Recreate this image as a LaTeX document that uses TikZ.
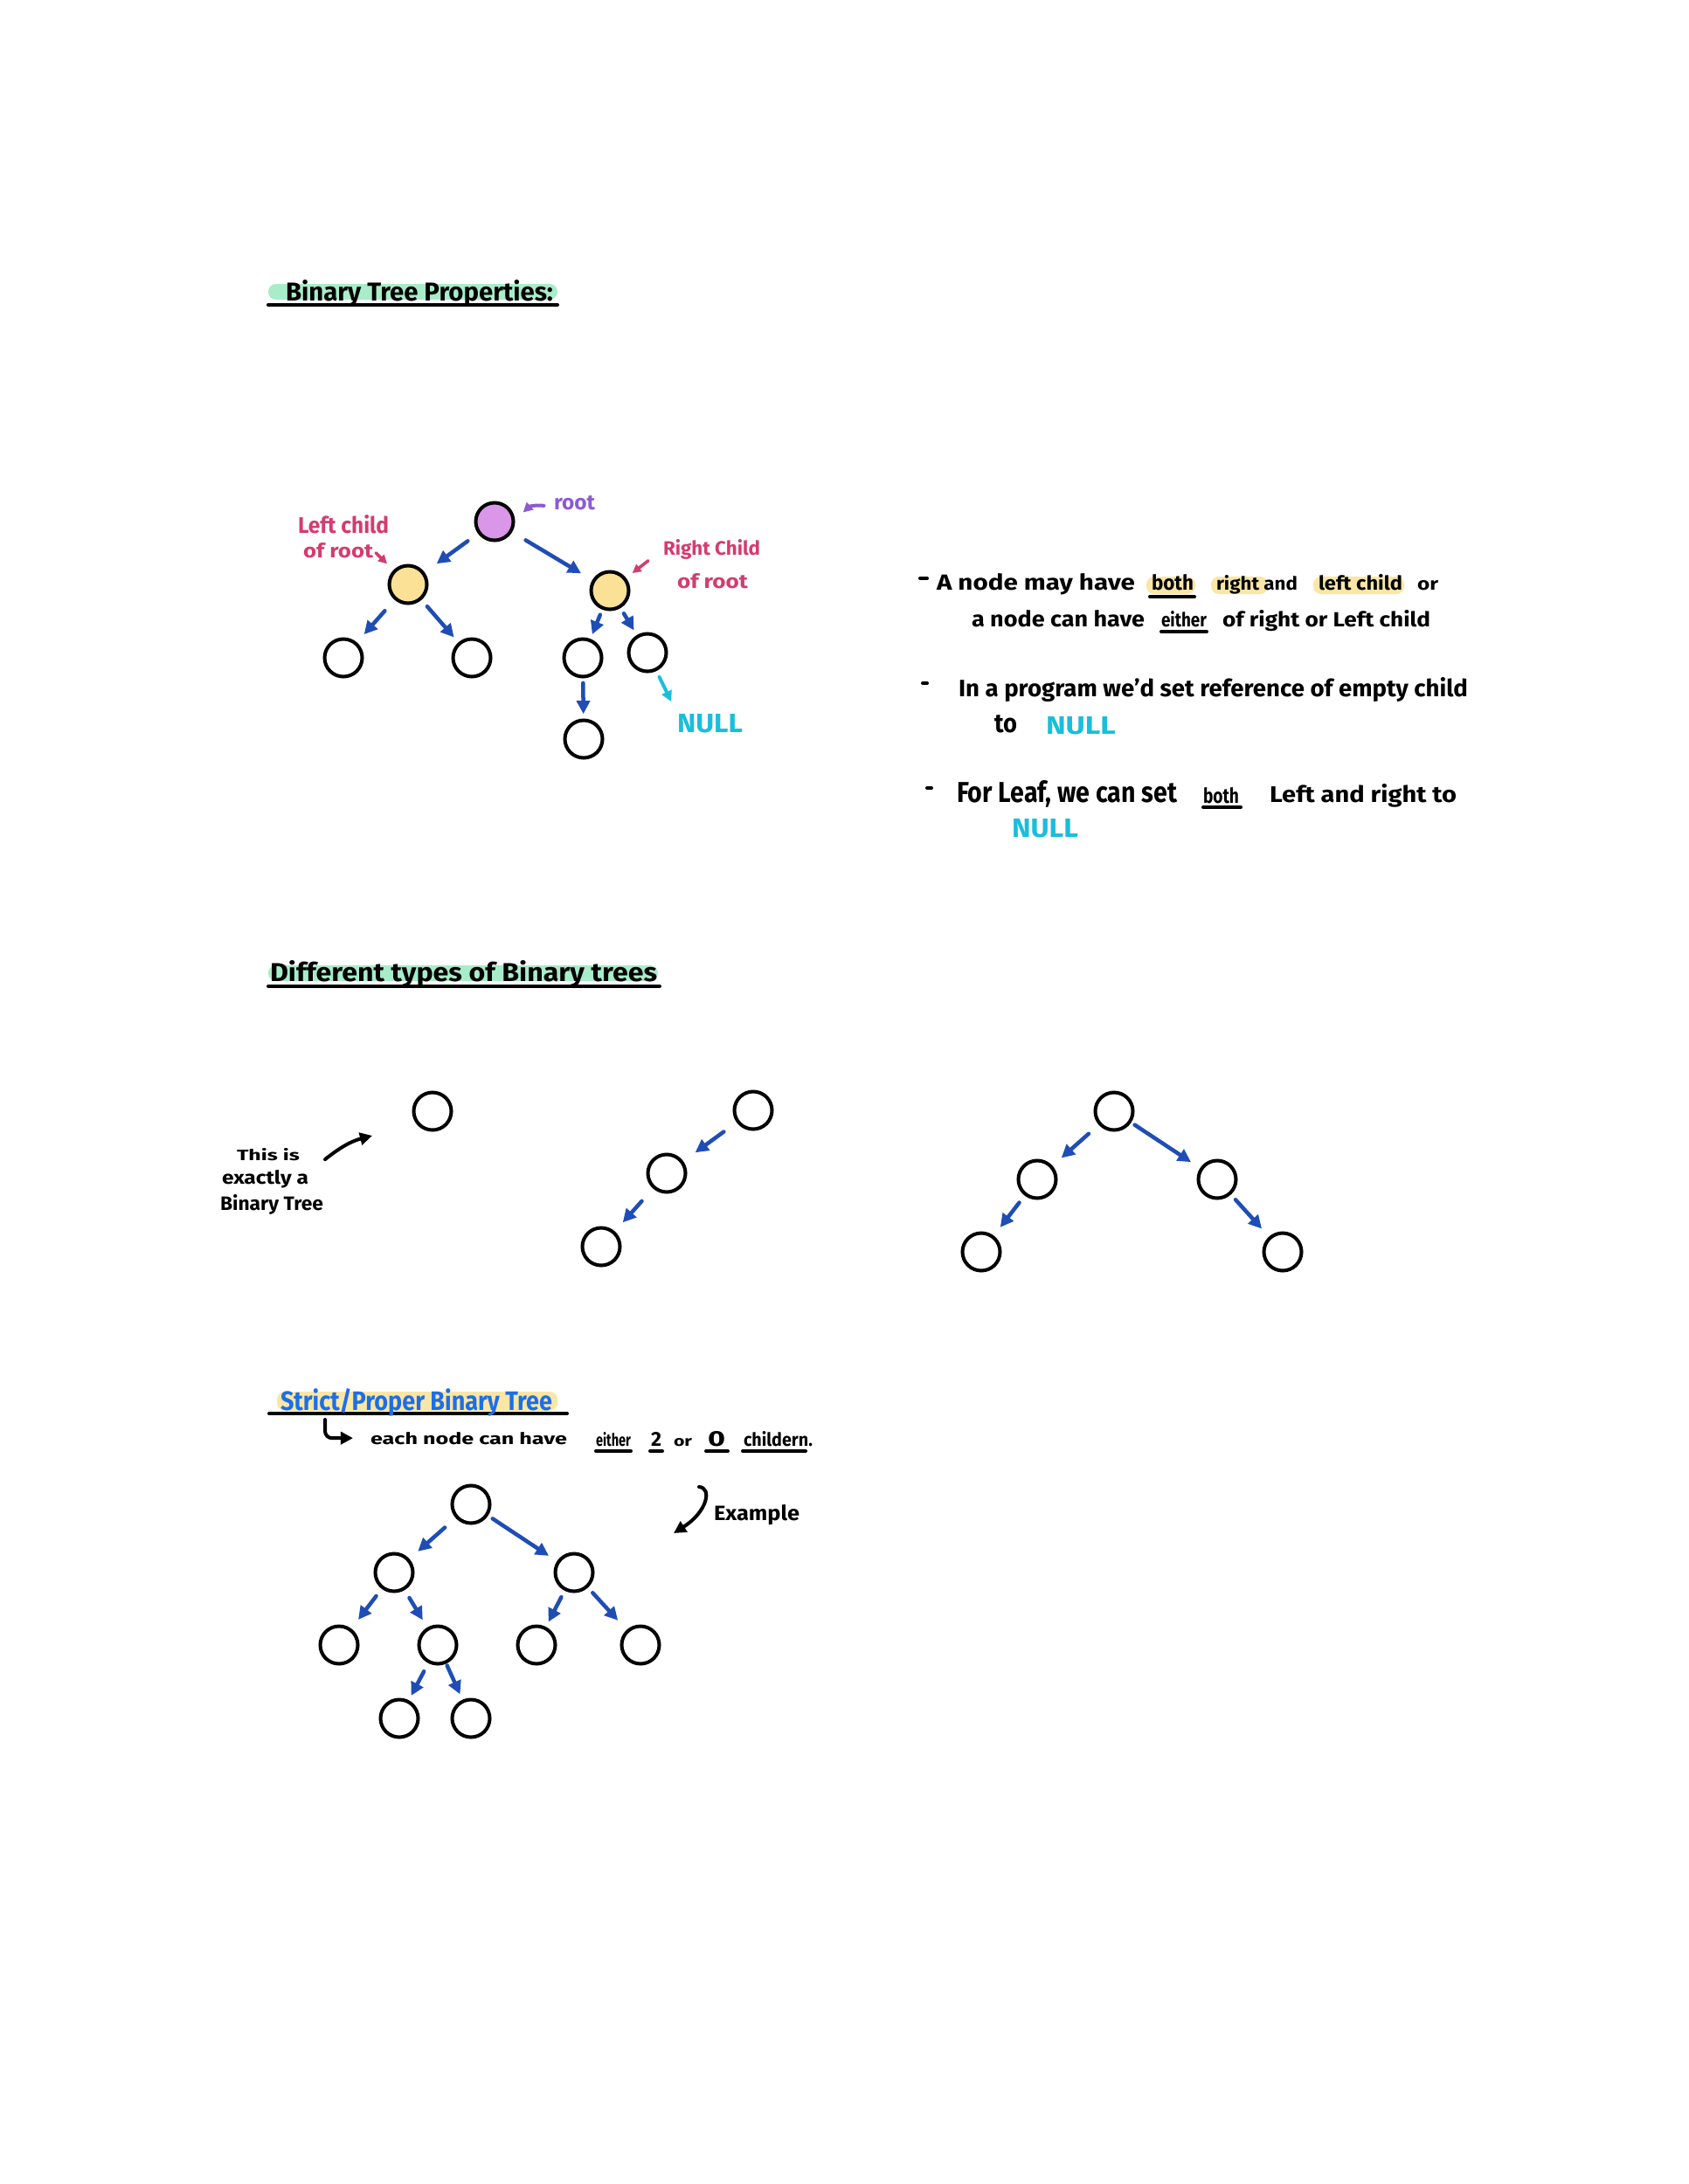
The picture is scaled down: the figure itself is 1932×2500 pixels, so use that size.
\documentclass[tikz,border=0pt]{standalone}
\usepackage{fontspec}
\setmainfont{Fira Sans}
\usepackage{graphicx}
\usetikzlibrary{calc,arrows.meta}

\definecolor{inkblue}{HTML}{1F4DB5}
\definecolor{nullcyan}{HTML}{19BEDC}
\definecolor{notered}{HTML}{D33C6E}
\definecolor{rootpurple}{HTML}{8C5AD2}
\definecolor{rootfill}{HTML}{DA96E8}
\definecolor{childfill}{HTML}{FAE196}
\definecolor{markyellow}{HTML}{FAE6A5}
\definecolor{markgreen}{HTML}{A8ECC9}
\definecolor{titleblue}{HTML}{1E6EE6}

% one drawing unit = 0.01cm
\newlength\pxu
\setlength\pxu{0.01cm}
% handwritten-style word: width, height (above baseline), text
\newcommand{\hw}[3]{\resizebox{#1\pxu}{#2\pxu}{\bfseries #3}}

\tikzset{
  tnode/.style={circle, draw=black, line width=0.04cm, minimum size=0.43cm, inner sep=0pt},
  txt/.style={anchor=base west, inner sep=0pt, outer sep=0pt},
  barrow/.style={draw=inkblue, line width=0.045cm, line cap=round,
    -{Triangle[length=0.15cm, width=0.15cm]}},
  karrow/.style={draw=black, line width=0.04cm, line cap=round,
    -{Triangle[length=0.14cm, width=0.14cm]}},
  carrow/.style={draw=nullcyan, line width=0.04cm, line cap=round,
    -{Triangle[length=0.12cm, width=0.12cm]}},
  rarrow/.style={draw=notered, line width=0.035cm, line cap=round,
    -{Triangle[length=0.1cm, width=0.1cm]}},
  parrow/.style={draw=rootpurple, line width=0.04cm, line cap=round,
    -{Triangle[length=0.11cm, width=0.11cm]}},
  uline/.style={line width=0.04cm, line cap=round},
  hilite/.style={rounded corners=0.09cm},
}

\begin{document}
\begin{tikzpicture}[x=0.01cm, y=-0.01cm]
\fill[white] (0,0) rectangle (1932,2500);
\useasboundingbox (0,0) rectangle (1932,2500);

% ---------------- Binary Tree Properties ----------------
\fill[markgreen, hilite] (307,325) rectangle (638,343);
\draw[uline] (307,349) -- (638,349);
\node[txt] (title1) at (327,344) {\hw{306}{24}{Binary Tree Properties:}};

\node[tnode, fill=rootfill]  (root) at (566,597) {};
\node[tnode, fill=childfill] (lc)   at (467,669) {};
\node[tnode, fill=childfill] (rc)   at (698,676) {};
\node[tnode] (ll)  at (393,753) {};
\node[tnode] (lr)  at (540,753) {};
\node[tnode] (rl)  at (667,753) {};
\node[tnode] (rr)  at (741,747) {};
\node[tnode] (rll) at (668,846) {};

\node[txt, text=rootpurple] (rootlbl) at (634,583) {\hw{47}{16}{root}};
\node[txt, text=notered] (lcl1) at (341,610) {\hw{104}{21}{Left child}};
\node[txt, text=notered] (lcl2) at (347,638) {\hw{80}{17}{of root}};
\node[txt, text=notered] (rcl1) at (759,635) {\hw{111}{18}{Right Child}};
\node[txt, text=notered] (rcl2) at (775,673) {\hw{81}{17}{of root}};
\node[txt, text=nullcyan] (null1) at (775,838) {\hw{75}{21}{NULL}};

\draw[barrow] ($(root)!0.31!(lc)$) -- ($(root)!0.67!(lc)$);
\draw[barrow] ($(root)!0.27!(rc)$) -- ($(root)!0.75!(rc)$);
\draw[barrow] ($(lc)!0.36!(ll)$) -- ($(lc)!0.68!(ll)$);
\draw[barrow] ($(lc)!0.30!(lr)$) -- ($(lc)!0.72!(lr)$);
\draw[barrow] ($(rc)!0.36!(rl)$) -- ($(rc)!0.65!(rl)$);
\draw[barrow] ($(rc)!0.37!(rr)$) -- ($(rc)!0.64!(rr)$);
\draw[barrow] ($(rl)!0.31!(rll)$) -- ($(rl)!0.69!(rll)$);
\draw[carrow] ($(rr)!0.40!(null1.north west)$) -- ($(rr)!0.80!(null1.north west)$);

\draw[parrow] ($(rootlbl.west)!0.17!(root)$) to[bend right=25] ($(rootlbl.west)!0.52!(root)$);
\draw[rarrow] ($(lcl2.east)!0.08!(lc)$) -- ($(lcl2.east)!0.40!(lc)$);
\draw[rarrow] ($(rcl1.west)!0.28!(rc)$) -- ($(rcl1.west)!0.58!(rc)$);

% notes on the right
\draw[uline] (1053,662) -- (1061,662);
\fill[markyellow, hilite] (1312,660) rectangle (1368,680);
\fill[markyellow, hilite] (1386,660) rectangle (1451,680);
\fill[markyellow, hilite] (1503,660) rectangle (1607,680);
\node[txt] (n1a) at (1072,675) {\hw{227}{19}{A node may have}};
\node[txt] (n1b) at (1318,675) {\hw{48}{18}{both}};
\node[txt] (n1c) at (1392,675) {\hw{93}{17}{right and}};
\node[txt] (n1d) at (1509,675) {\hw{96}{18}{left child}};
\node[txt] (n1e) at (1622,675) {\hw{24}{11}{or}};
\draw[uline] (1316,683) -- (1367,683);

\node[txt] (n2a) at (1112,717) {\hw{198}{19}{a node can have}};
\node[txt] (n2b) at (1329,717) {\hw{52}{18}{either}};
\node[txt] (n2c) at (1399,717) {\hw{238}{19}{of right or Left child}};
\draw[uline] (1329,723) -- (1381,723);

\draw[uline] (1056,782) -- (1061,782);
\node[txt] (n3a) at (1097,797) {\hw{583}{22}{In a program we'd set reference of empty child}};
\node[txt] (n4a) at (1138,838) {\hw{26}{20}{to}};
\node[txt, text=nullcyan] (null2) at (1197,840) {\hw{80}{20}{NULL}};

\draw[uline] (1061,902) -- (1066,902);
\node[txt] (n5a) at (1095,918) {\hw{252}{25}{For Leaf, we can set}};
\node[txt] (n5b) at (1377,919) {\hw{41}{18}{both}};
\node[txt] (n5c) at (1453,918) {\hw{214}{21}{Left and right to}};
\draw[uline] (1377,924) -- (1420,924);
\node[txt, text=nullcyan] (null3) at (1158,958) {\hw{76}{21}{NULL}};

% ---------------- Different types of Binary trees ----------------
\fill[markgreen, hilite] (307,1105) rectangle (753,1123);
\draw[uline] (307,1129) -- (755,1129);
\node[txt] (title2) at (309,1123) {\hw{443}{24}{Different types of Binary trees}};

\node[tnode] (solo) at (495,1272) {};
\node[txt] (sl1) at (271,1328) {\hw{72}{14}{This is}};
\node[txt] (sl2) at (254,1355) {\hw{99}{16}{exactly a}};
\node[txt] (sl3) at (252,1385) {\hw{118}{18}{Binary Tree}};
\coordinate (soloarrow) at (426,1300);
\draw[karrow] ($(sl1.east)+(29,6)$) to[bend left=12] (soloarrow);

\node[tnode] (c1) at (862,1271) {};
\node[tnode] (c2) at (763,1343) {};
\node[tnode] (c3) at (688,1427) {};
\draw[barrow] ($(c1)!0.34!(c2)$) -- ($(c1)!0.67!(c2)$);
\draw[barrow] ($(c2)!0.38!(c3)$) -- ($(c2)!0.67!(c3)$);

\node[tnode] (troot) at (1275,1272) {};
\node[tnode] (tl)  at (1187,1350) {};
\node[tnode] (tr)  at (1393,1350) {};
\node[tnode] (tll) at (1123,1433) {};
\node[tnode] (trr) at (1468,1433) {};
\draw[barrow] ($(troot)!0.33!(tl)$) -- ($(troot)!0.685!(tl)$);
\draw[barrow] ($(troot)!0.20!(tr)$) -- ($(troot)!0.746!(tr)$);
\draw[barrow] ($(tl)!0.32!(tll)$) -- ($(tl)!0.66!(tll)$);
\draw[barrow] ($(tr)!0.28!(trr)$) -- ($(tr)!0.68!(trr)$);

% ---------------- Strict / Proper Binary Tree ----------------
\fill[markyellow, hilite] (317,1593) rectangle (638,1615);
\draw[uline] (308,1618) -- (649,1618);
\node[txt, text=titleblue] (title3) at (321,1614) {\hw{311}{25}{Strict/Proper Binary Tree}};

\node[txt] (each) at (424,1653) {\hw{225}{14}{each node can have}};
\node[txt] (e2) at (682,1655) {\hw{40}{16}{either}};
\node[txt] (e3) at (745,1655) {\hw{12}{16}{2}};
\node[txt] (e4) at (771,1655) {\hw{21}{9}{or}};
\node[txt] (e5) at (810,1655) {\hw{20}{17}{0}};
\node[txt] (e6) at (851,1655) {\hw{79}{17}{childern.}};
\draw[uline] (682,1661) -- (722,1661);
\draw[uline] (744,1661) -- (758,1661);
\draw[uline] (808,1661) -- (833,1661);
\draw[uline] (850,1661) -- (922,1661);
\coordinate (hooktop) at (372,1625);
\draw[karrow, rounded corners=0.08cm] (hooktop) |- ($(each.west)+(-20,0)$);

\node[tnode] (sroot) at (539,1722) {};
\node[tnode] (sl)   at (451,1800) {};
\node[tnode] (sr)   at (657,1800) {};
\node[tnode] (sll)  at (388,1883) {};
\node[tnode] (slr)  at (501,1883) {};
\node[tnode] (srl)  at (614,1883) {};
\node[tnode] (srr)  at (733,1883) {};
\node[tnode] (slrl) at (457,1967) {};
\node[tnode] (slrr) at (539,1967) {};
\draw[barrow] ($(sroot)!0.34!(sl)$) -- ($(sroot)!0.69!(sl)$);
\draw[barrow] ($(sroot)!0.21!(sr)$) -- ($(sroot)!0.755!(sr)$);
\draw[barrow] ($(sl)!0.325!(sll)$) -- ($(sl)!0.65!(sll)$);
\draw[barrow] ($(sl)!0.35!(slr)$) -- ($(sl)!0.655!(slr)$);
\draw[barrow] ($(sr)!0.34!(srl)$) -- ($(sr)!0.68!(srl)$);
\draw[barrow] ($(sr)!0.28!(srr)$) -- ($(sr)!0.66!(srr)$);
\draw[barrow] ($(slr)!0.36!(slrl)$) -- ($(slr)!0.69!(slrl)$);
\draw[barrow] ($(slr)!0.28!(slrr)$) -- ($(slr)!0.67!(slrr)$);

\node[txt] (example) at (817,1740) {\hw{98}{18}{Example}};
\coordinate (exA) at (800,1702);
\coordinate (exB) at (771,1755);
\draw[karrow] (exA) .. controls (815,1703) and (810,1730) .. (exB);
\end{tikzpicture}
\end{document}
